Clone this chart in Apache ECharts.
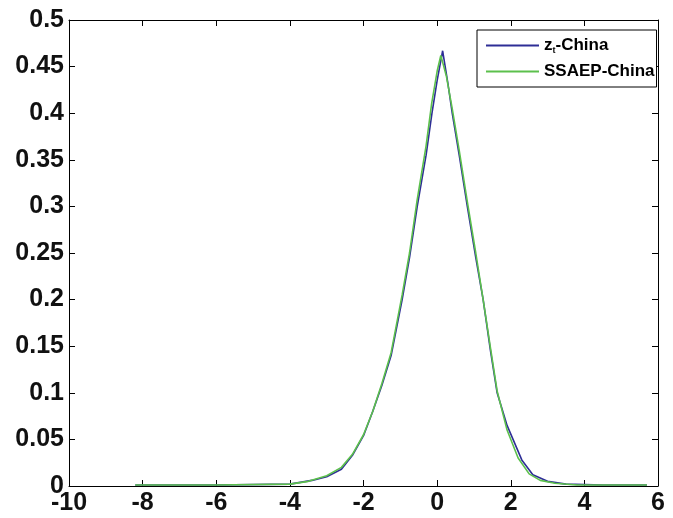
<!doctype html>
<html>
<head>
  <meta charset="utf-8">
  <title>index</title>
  <script src="https://cdn.jsdelivr.net/npm/echarts@6/dist/echarts.min.js"></script>
  <style>
    html, body { margin: 0; padding: 0; background: #fff; }
    #main { width: 673px; height: 518px; }
  </style>
</head>
<body>
  <div id="main"></div>
  <script>
    // x ticks / y ticks
    var xTicks = [-10, -8, -6, -4, -2, 0, 2, 4, 6];
    var yTicks = [0, 0.05, 0.1, 0.15, 0.2, 0.25, 0.3, 0.35, 0.4, 0.45, 0.5];

    // z_t - China (blue)
    var ztX = [-8.2, -6, -4, -3.4, -3.0, -2.6, -2.3, -2.0, -1.75, -1.5, -1.25, -0.95, -0.75, -0.54, -0.3, -0.14, 0.0, 0.15, 0.3, 0.41, 0.6, 0.82, 1.05, 1.25, 1.45, 1.63, 1.9, 2.3, 2.6, 3.0, 3.5, 4.5, 5.7];
    var ztY = [0.001, 0.001, 0.002, 0.006, 0.010, 0.018, 0.033, 0.054, 0.08, 0.108, 0.14, 0.2, 0.245, 0.3, 0.355, 0.4, 0.435, 0.467, 0.43, 0.4, 0.355, 0.3, 0.245, 0.2, 0.145, 0.1, 0.065, 0.028, 0.012, 0.005, 0.002, 0.001, 0.001];

    // SSAEP - China (green)
    var ssX = [-8.2, -6, -4, -3.5, -3.0, -2.6, -2.3, -2.0, -1.75, -1.5, -1.25, -0.95, -0.75, -0.55, -0.3, -0.15, 0.0, 0.1, 0.25, 0.41, 0.6, 0.82, 1.05, 1.25, 1.45, 1.63, 1.9, 2.2, 2.5, 2.8, 3.2, 3.8, 5.7];
    var ssY = [0.001, 0.001, 0.002, 0.005, 0.011, 0.02, 0.034, 0.055, 0.08, 0.11, 0.143, 0.205, 0.25, 0.305, 0.365, 0.41, 0.445, 0.462, 0.44, 0.405, 0.36, 0.305, 0.25, 0.2, 0.148, 0.102, 0.06, 0.03, 0.013, 0.006, 0.003, 0.001, 0.001];

    function pairs(xs, ys) {
      var out = [];
      for (var i = 0; i < xs.length; i++) out.push([xs[i], ys[i]]);
      return out;
    }

    var font = 'Liberation Sans, Arial, sans-serif';
    var chart = echarts.init(document.getElementById('main'));

    var baseX = {
      type: 'value', min: xTicks[0], max: xTicks[xTicks.length - 1], interval: 2,
      axisLine: { onZero: false, lineStyle: { color: '#000', width: 1 } },
      axisTick: { inside: true, length: 6, lineStyle: { color: '#000' } },
      splitLine: { show: false }
    };
    var baseY = {
      type: 'value', min: yTicks[0], max: yTicks[yTicks.length - 1], interval: 0.05,
      axisLine: { show: true, onZero: false, lineStyle: { color: '#000', width: 1 } },
      axisTick: { show: true, inside: true, length: 6, lineStyle: { color: '#000' } },
      splitLine: { show: false }
    };

    chart.setOption({
      backgroundColor: '#fff',
      animation: false,
      grid: { left: 69, right: 15, top: 20, bottom: 32 },
      xAxis: [
        Object.assign({}, baseX, {
          position: 'bottom',
          axisLabel: { color: '#111', fontSize: 25, fontWeight: 'bold', fontFamily: font, margin: 5 }
        }),
        Object.assign({}, baseX, { position: 'top', axisLabel: { show: false } })
      ],
      yAxis: [
        Object.assign({}, baseY, {
          position: 'left',
          axisLabel: { color: '#111', fontSize: 25, fontWeight: 'bold', fontFamily: font, margin: 5 }
        }),
        Object.assign({}, baseY, { position: 'right', axisLabel: { show: false } })
      ],
      legend: {
        left: 477, top: 30,
        orient: 'vertical',
        backgroundColor: '#fff',
        borderColor: '#000', borderWidth: 1,
        padding: [7, 2, 7, 9],
        itemWidth: 53, itemHeight: 2, itemGap: 8,
        icon: 'rect',
        data: ['zt-China', 'SSAEP-China'],
        formatter: function (name) {
          if (name === 'zt-China') return '{n|z}{s|t}{n|-China}';
          return '{n|' + name + '}';
        },
        textStyle: {
          color: '#000', fontSize: 17, fontWeight: 'bold', fontFamily: font,
          rich: {
            n: { fontSize: 17, fontWeight: 'bold', fontFamily: font, color: '#000' },
            s: { fontSize: 9, fontWeight: 'bold', fontFamily: font, color: '#000', padding: [10, 0, 0, 0] }
          }
        }
      },
      series: [
        {
          name: 'zt-China', type: 'line', xAxisIndex: 0, yAxisIndex: 0,
          data: pairs(ztX, ztY), symbol: 'none', smooth: false,
          itemStyle: { color: '#2e2e96' },
          lineStyle: { color: '#2e2e96', width: 1.6 }
        },
        {
          name: 'SSAEP-China', type: 'line', xAxisIndex: 0, yAxisIndex: 0,
          data: pairs(ssX, ssY), symbol: 'none', smooth: false,
          itemStyle: { color: '#5cc04c' },
          lineStyle: { color: '#5cc04c', width: 1.6 }
        }
      ]
    });
  </script>
</body>
</html>
